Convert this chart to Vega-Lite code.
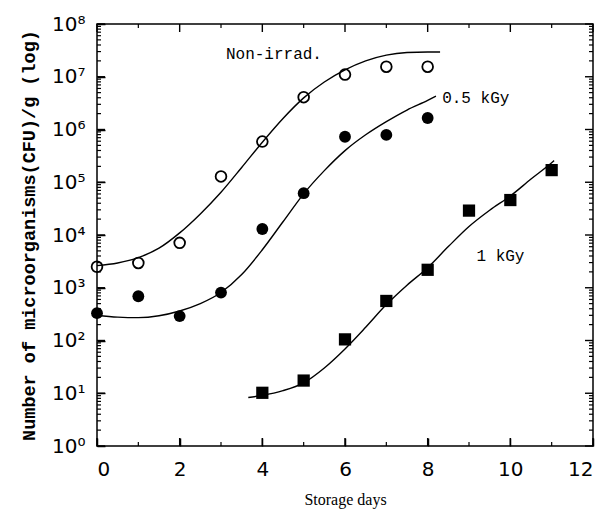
{
  "$schema": "https://vega.github.io/schema/vega-lite/v6.json",
  "width": 496,
  "height": 422,
  "autosize": {"type": "none"},
  "padding": {"left": 97, "top": 24, "right": 21, "bottom": 63},
  "background": "white",
  "config": {
    "view": {"stroke": "black", "strokeWidth": 1.5}
  },
  "datasets": {
    "points": [
      {"day": 0, "cfu": 2500, "group": "Non-irrad."},
      {"day": 1, "cfu": 2950, "group": "Non-irrad."},
      {"day": 2, "cfu": 7100, "group": "Non-irrad."},
      {"day": 3, "cfu": 129000, "group": "Non-irrad."},
      {"day": 4, "cfu": 590000, "group": "Non-irrad."},
      {"day": 5, "cfu": 4100000, "group": "Non-irrad."},
      {"day": 6, "cfu": 11000000, "group": "Non-irrad."},
      {"day": 7, "cfu": 15500000, "group": "Non-irrad."},
      {"day": 8, "cfu": 15500000, "group": "Non-irrad."},
      {"day": 0, "cfu": 330, "group": "0.5 kGy"},
      {"day": 1, "cfu": 690, "group": "0.5 kGy"},
      {"day": 2, "cfu": 290, "group": "0.5 kGy"},
      {"day": 3, "cfu": 810, "group": "0.5 kGy"},
      {"day": 4, "cfu": 13000, "group": "0.5 kGy"},
      {"day": 5, "cfu": 62000, "group": "0.5 kGy"},
      {"day": 6, "cfu": 730000, "group": "0.5 kGy"},
      {"day": 7, "cfu": 790000, "group": "0.5 kGy"},
      {"day": 8, "cfu": 1650000, "group": "0.5 kGy"},
      {"day": 4, "cfu": 10.2, "group": "1 kGy"},
      {"day": 5, "cfu": 17.4, "group": "1 kGy"},
      {"day": 6, "cfu": 105, "group": "1 kGy"},
      {"day": 7, "cfu": 562, "group": "1 kGy"},
      {"day": 8, "cfu": 2190, "group": "1 kGy"},
      {"day": 9, "cfu": 29000, "group": "1 kGy"},
      {"day": 10, "cfu": 46000, "group": "1 kGy"},
      {"day": 11, "cfu": 170000, "group": "1 kGy"}
    ],
    "curves": [
      {"day": 0, "cfu": 2630, "group": "Non-irrad."},
      {"day": 0.5, "cfu": 2950, "group": "Non-irrad."},
      {"day": 1, "cfu": 3720, "group": "Non-irrad."},
      {"day": 1.5, "cfu": 5620, "group": "Non-irrad."},
      {"day": 2, "cfu": 10960, "group": "Non-irrad."},
      {"day": 2.5, "cfu": 25100, "group": "Non-irrad."},
      {"day": 3, "cfu": 64600, "group": "Non-irrad."},
      {"day": 3.5, "cfu": 190500, "group": "Non-irrad."},
      {"day": 4, "cfu": 575000, "group": "Non-irrad."},
      {"day": 4.5, "cfu": 1620000, "group": "Non-irrad."},
      {"day": 5, "cfu": 3980000, "group": "Non-irrad."},
      {"day": 5.5, "cfu": 7940000, "group": "Non-irrad."},
      {"day": 6, "cfu": 13500000, "group": "Non-irrad."},
      {"day": 6.5, "cfu": 20000000, "group": "Non-irrad."},
      {"day": 7, "cfu": 25700000, "group": "Non-irrad."},
      {"day": 7.5, "cfu": 28800000, "group": "Non-irrad."},
      {"day": 8, "cfu": 29500000, "group": "Non-irrad."},
      {"day": 8.3, "cfu": 29500000, "group": "Non-irrad."},
      {"day": 0, "cfu": 302, "group": "0.5 kGy"},
      {"day": 0.5, "cfu": 278, "group": "0.5 kGy"},
      {"day": 1, "cfu": 272, "group": "0.5 kGy"},
      {"day": 1.5, "cfu": 295, "group": "0.5 kGy"},
      {"day": 2, "cfu": 363, "group": "0.5 kGy"},
      {"day": 2.5, "cfu": 501, "group": "0.5 kGy"},
      {"day": 3, "cfu": 813, "group": "0.5 kGy"},
      {"day": 3.5, "cfu": 1780, "group": "0.5 kGy"},
      {"day": 4, "cfu": 5250, "group": "0.5 kGy"},
      {"day": 4.5, "cfu": 17800, "group": "0.5 kGy"},
      {"day": 5, "cfu": 60300, "group": "0.5 kGy"},
      {"day": 5.5, "cfu": 166000, "group": "0.5 kGy"},
      {"day": 6, "cfu": 398000, "group": "0.5 kGy"},
      {"day": 6.5, "cfu": 794000, "group": "0.5 kGy"},
      {"day": 7, "cfu": 1410000, "group": "0.5 kGy"},
      {"day": 7.5, "cfu": 2340000, "group": "0.5 kGy"},
      {"day": 8, "cfu": 3550000, "group": "0.5 kGy"},
      {"day": 8.2, "cfu": 4270000, "group": "0.5 kGy"},
      {"day": 3.66, "cfu": 8.3, "group": "1 kGy"},
      {"day": 4, "cfu": 9.1, "group": "1 kGy"},
      {"day": 4.5, "cfu": 11.2, "group": "1 kGy"},
      {"day": 5, "cfu": 15.8, "group": "1 kGy"},
      {"day": 5.5, "cfu": 30.2, "group": "1 kGy"},
      {"day": 6, "cfu": 69.2, "group": "1 kGy"},
      {"day": 6.5, "cfu": 178, "group": "1 kGy"},
      {"day": 7, "cfu": 479, "group": "1 kGy"},
      {"day": 7.5, "cfu": 1120, "group": "1 kGy"},
      {"day": 8, "cfu": 2400, "group": "1 kGy"},
      {"day": 8.5, "cfu": 6030, "group": "1 kGy"},
      {"day": 9, "cfu": 14500, "group": "1 kGy"},
      {"day": 9.5, "cfu": 29500, "group": "1 kGy"},
      {"day": 10, "cfu": 55000, "group": "1 kGy"},
      {"day": 10.5, "cfu": 115000, "group": "1 kGy"},
      {"day": 11, "cfu": 234000, "group": "1 kGy"},
      {"day": 11.06, "cfu": 257000, "group": "1 kGy"}
    ],
    "labels": [
      {"day": 3.12, "cfu": 27500000, "text": "Non-irrad."},
      {"day": 8.35, "cfu": 3980000, "text": "0.5 kGy"},
      {"day": 9.18, "cfu": 3980, "text": "1 kGy"}
    ],
    "xticks": [
      {"day": 0, "major": true}, {"day": 1, "major": false}, {"day": 2, "major": true}, {"day": 3, "major": false},
      {"day": 4, "major": true}, {"day": 5, "major": false}, {"day": 6, "major": true}, {"day": 7, "major": false},
      {"day": 8, "major": true}, {"day": 9, "major": false}, {"day": 10, "major": true}, {"day": 11, "major": false},
      {"day": 12, "major": true}
    ],
    "yticks": [
      {"cfu": 1, "major": true}, {"cfu": 2, "major": false}, {"cfu": 3, "major": false}, {"cfu": 4, "major": false}, {"cfu": 5, "major": false}, {"cfu": 6, "major": false}, {"cfu": 7, "major": false}, {"cfu": 8, "major": false}, {"cfu": 9, "major": false},
      {"cfu": 10, "major": true}, {"cfu": 20, "major": false}, {"cfu": 30, "major": false}, {"cfu": 40, "major": false}, {"cfu": 50, "major": false}, {"cfu": 60, "major": false}, {"cfu": 70, "major": false}, {"cfu": 80, "major": false}, {"cfu": 90, "major": false},
      {"cfu": 100, "major": true}, {"cfu": 200, "major": false}, {"cfu": 300, "major": false}, {"cfu": 400, "major": false}, {"cfu": 500, "major": false}, {"cfu": 600, "major": false}, {"cfu": 700, "major": false}, {"cfu": 800, "major": false}, {"cfu": 900, "major": false},
      {"cfu": 1000, "major": true}, {"cfu": 2000, "major": false}, {"cfu": 3000, "major": false}, {"cfu": 4000, "major": false}, {"cfu": 5000, "major": false}, {"cfu": 6000, "major": false}, {"cfu": 7000, "major": false}, {"cfu": 8000, "major": false}, {"cfu": 9000, "major": false},
      {"cfu": 10000, "major": true}, {"cfu": 20000, "major": false}, {"cfu": 30000, "major": false}, {"cfu": 40000, "major": false}, {"cfu": 50000, "major": false}, {"cfu": 60000, "major": false}, {"cfu": 70000, "major": false}, {"cfu": 80000, "major": false}, {"cfu": 90000, "major": false},
      {"cfu": 100000, "major": true}, {"cfu": 200000, "major": false}, {"cfu": 300000, "major": false}, {"cfu": 400000, "major": false}, {"cfu": 500000, "major": false}, {"cfu": 600000, "major": false}, {"cfu": 700000, "major": false}, {"cfu": 800000, "major": false}, {"cfu": 900000, "major": false},
      {"cfu": 1000000, "major": true}, {"cfu": 2000000, "major": false}, {"cfu": 3000000, "major": false}, {"cfu": 4000000, "major": false}, {"cfu": 5000000, "major": false}, {"cfu": 6000000, "major": false}, {"cfu": 7000000, "major": false}, {"cfu": 8000000, "major": false}, {"cfu": 9000000, "major": false},
      {"cfu": 10000000, "major": true}, {"cfu": 20000000, "major": false}, {"cfu": 30000000, "major": false}, {"cfu": 40000000, "major": false}, {"cfu": 50000000, "major": false}, {"cfu": 60000000, "major": false}, {"cfu": 70000000, "major": false}, {"cfu": 80000000, "major": false}, {"cfu": 90000000, "major": false},
      {"cfu": 100000000, "major": true}
    ]
  },
  "layer": [
    {
      "data": {"name": "curves"},
      "mark": {"type": "line", "color": "black", "strokeWidth": 1.4, "interpolate": "monotone"},
      "encoding": {
        "x": {"field": "day", "type": "quantitative", "scale": {"domain": [0, 12], "nice": false, "zero": false},
          "axis": {"orient": "bottom", "values": [0, 2, 4, 6, 8, 10, 12], "title": "Storage days", "zindex": 1, "domain": false, "gridOpacity": 0,
            "tickColor": "black", "tickWidth": 1.5, "tickSize": -8,
            "labelColor": "black", "labelFont": "DejaVu Sans", "labelFontSize": 20, "labelPadding": 21, "labelBaseline": "top",
            "titleColor": "black", "titleFont": "Liberation Serif", "titleFontSize": 16, "titleFontWeight": "normal", "titlePadding": 12}},
        "y": {"field": "cfu", "type": "quantitative", "scale": {"type": "log", "domain": [1, 100000000], "nice": false},
          "axis": {"orient": "left", "title": "Number of microorganisms(CFU)/g (log)", "zindex": 1, "domain": false, "gridOpacity": 0,
            "tickColor": "black", "tickWidth": 1.5, "tickSize": -8,
            "values": [1, 10, 100, 1000, 10000, 100000, 1000000, 10000000, 100000000],
            "labelExpr": "'10' + ['⁰','¹','²','³','⁴','⁵','⁶','⁷','⁸'][round(log(datum.value)/LN10)]",
            "labelColor": "black", "labelFont": "DejaVu Sans", "labelFontSize": 20, "labelPadding": 20,
            "titleColor": "black", "titleFont": "Liberation Mono", "titleFontSize": 18.5, "titleFontWeight": "bold", "titlePadding": 13}},
        "detail": {"field": "group"}
      }
    },
    {
      "data": {"name": "xticks"},
      "transform": [{"filter": "datum.major"}],
      "mark": {"type": "tick", "orient": "vertical", "color": "black", "thickness": 1.4, "opacity": 1, "size": 8, "yOffset": -4},
      "encoding": {
        "x": {"field": "day", "type": "quantitative", "axis": null},
        "y": {"datum": 1, "type": "quantitative", "axis": null}
      }
    },
    {
      "data": {"name": "xticks"},
      "transform": [{"filter": "!datum.major"}],
      "mark": {"type": "tick", "orient": "vertical", "color": "black", "thickness": 1.2, "opacity": 1, "size": 4, "yOffset": -2},
      "encoding": {
        "x": {"field": "day", "type": "quantitative", "axis": null},
        "y": {"datum": 1, "type": "quantitative", "axis": null}
      }
    },
    {
      "data": {"name": "xticks"},
      "transform": [{"filter": "datum.major"}],
      "mark": {"type": "tick", "orient": "vertical", "color": "black", "thickness": 1.4, "opacity": 1, "size": 8, "yOffset": 4},
      "encoding": {
        "x": {"field": "day", "type": "quantitative", "axis": null},
        "y": {"datum": 100000000, "type": "quantitative", "axis": null}
      }
    },
    {
      "data": {"name": "xticks"},
      "transform": [{"filter": "!datum.major"}],
      "mark": {"type": "tick", "orient": "vertical", "color": "black", "thickness": 1.2, "opacity": 1, "size": 4, "yOffset": 2},
      "encoding": {
        "x": {"field": "day", "type": "quantitative", "axis": null},
        "y": {"datum": 100000000, "type": "quantitative", "axis": null}
      }
    },
    {
      "data": {"name": "yticks"},
      "transform": [{"filter": "datum.major"}],
      "mark": {"type": "tick", "orient": "horizontal", "color": "black", "thickness": 1.4, "opacity": 1, "size": 8, "xOffset": 4},
      "encoding": {
        "y": {"field": "cfu", "type": "quantitative", "axis": null},
        "x": {"datum": 0, "type": "quantitative", "axis": null}
      }
    },
    {
      "data": {"name": "yticks"},
      "transform": [{"filter": "!datum.major"}],
      "mark": {"type": "tick", "orient": "horizontal", "color": "black", "thickness": 1.2, "opacity": 1, "size": 4, "xOffset": 2},
      "encoding": {
        "y": {"field": "cfu", "type": "quantitative", "axis": null},
        "x": {"datum": 0, "type": "quantitative", "axis": null}
      }
    },
    {
      "data": {"name": "yticks"},
      "transform": [{"filter": "datum.major"}],
      "mark": {"type": "tick", "orient": "horizontal", "color": "black", "thickness": 1.4, "opacity": 1, "size": 8, "xOffset": -4},
      "encoding": {
        "y": {"field": "cfu", "type": "quantitative", "axis": null},
        "x": {"datum": 12, "type": "quantitative", "axis": null}
      }
    },
    {
      "data": {"name": "yticks"},
      "transform": [{"filter": "!datum.major"}],
      "mark": {"type": "tick", "orient": "horizontal", "color": "black", "thickness": 1.2, "opacity": 1, "size": 4, "xOffset": -2},
      "encoding": {
        "y": {"field": "cfu", "type": "quantitative", "axis": null},
        "x": {"datum": 12, "type": "quantitative", "axis": null}
      }
    },
    {
      "data": {"name": "points"},
      "transform": [{"filter": "datum.group == 'Non-irrad.'"}],
      "mark": {"type": "point", "shape": "circle", "filled": false, "stroke": "black", "strokeWidth": 1.8, "size": 115, "opacity": 1},
      "encoding": {
        "x": {"field": "day", "type": "quantitative", "axis": null},
        "y": {"field": "cfu", "type": "quantitative", "axis": null}
      }
    },
    {
      "data": {"name": "points"},
      "transform": [{"filter": "datum.group == '0.5 kGy'"}],
      "mark": {"type": "point", "shape": "circle", "filled": true, "color": "black", "size": 140, "opacity": 1},
      "encoding": {
        "x": {"field": "day", "type": "quantitative", "axis": null},
        "y": {"field": "cfu", "type": "quantitative", "axis": null}
      }
    },
    {
      "data": {"name": "points"},
      "transform": [{"filter": "datum.group == '1 kGy'"}],
      "mark": {"type": "point", "shape": "square", "filled": true, "color": "black", "size": 150, "opacity": 1},
      "encoding": {
        "x": {"field": "day", "type": "quantitative", "axis": null},
        "y": {"field": "cfu", "type": "quantitative", "axis": null}
      }
    },
    {
      "data": {"name": "labels"},
      "mark": {"type": "text", "font": "Liberation Mono", "fontSize": 16, "align": "left", "baseline": "middle", "color": "black"},
      "encoding": {
        "x": {"field": "day", "type": "quantitative", "axis": null},
        "y": {"field": "cfu", "type": "quantitative", "axis": null},
        "text": {"field": "text"}
      }
    }
  ],
  "resolve": {"axis": {"x": "independent", "y": "independent"}}
}
